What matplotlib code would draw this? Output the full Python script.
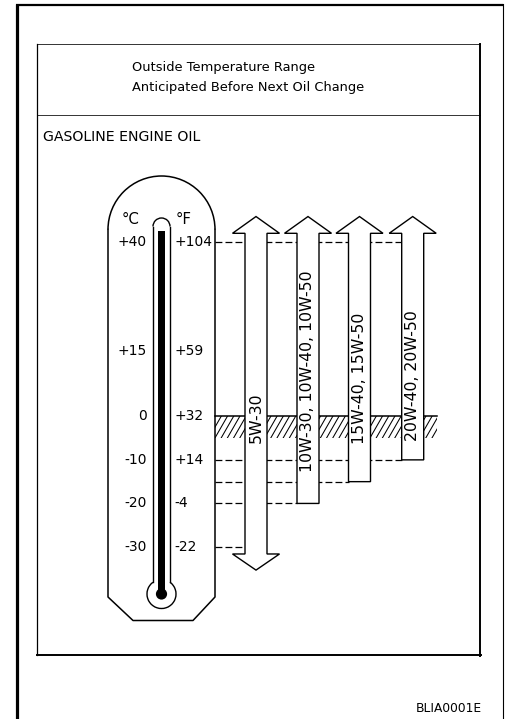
import matplotlib
matplotlib.use('Agg')
import numpy as np
import matplotlib.pyplot as plt
from matplotlib.patches import Polygon, Rectangle, Circle, Arc

# ---------------- data ----------------
celsius_ticks = [40, 15, 0, -10, -20, -30]
celsius_labels = ['+40', '+15', '0', '-10', '-20', '-30']
fahrenheit_labels = ['+104', '+59', '+32', '+14', '-4', '-22']
oil_grades = ['5W-30', '10W-30, 10W-40, 10W-50', '15W-40, 15W-50', '20W-40, 20W-50']
grade_low_c = [-30, -20, -15, -10]
grade_high_c = [40, 40, 40, 40]
grade_open_low = [True, False, False, False]
caution_band_c = [0, -5]
header_lines = ['Outside Temperature Range', 'Anticipated Before Next Oil Change']
section_title = 'GASOLINE ENGINE OIL'
figure_code = 'BLIA0001E'

# ---------------- layout ----------------
W, H = 505, 719
PX_PER_C = 4.357
ZERO_PX = 416.3
shaft_center_x = [256.0, 308.0, 359.5, 412.7]
shaft_half = 11.0
head_half = 23.5
label_y_c = [-0.4, 10.3, 8.6, 9.3]
therm_right = 215.0
band_right = 437.0

fig = plt.figure(figsize=(W / 100, H / 100), dpi=100)

# pixel axes for the frame / thermometer artwork
axp = fig.add_axes([0, 0, 1, 1])
axp.set_xlim(0, W)
axp.set_ylim(H, 0)
axp.axis('off')

# data axes: x in px, y in degrees Celsius
ax = fig.add_axes([0, 0, 1, 1])
ax.set_xlim(0, W)
ax.set_ylim((ZERO_PX - H) / PX_PER_C, ZERO_PX / PX_PER_C)
ax.axis('off')
ax.patch.set_alpha(0)

K = 'black'
# outer frame
axp.plot([16.5, 16.5], [4, H], color=K, lw=2.3, solid_capstyle='butt')
axp.plot([15.5, 503], [5, 5], color=K, lw=1.6, solid_capstyle='butt')
axp.plot([502.5, 502.5], [4, H], color=K, lw=0.8)

# inner box
axp.plot([36.7, 480], [43.5, 43.5], color='#333333', lw=0.7)
axp.plot([36.7, 480], [115, 115], color='#333333', lw=0.7)
axp.plot([36.7, 36.7], [43.5, 655], color=K, lw=0.9)
axp.plot([480, 480], [43.5, 655.5], color=K, lw=1.4)
axp.plot([36.7, 480.5], [655, 655], color=K, lw=1.4)

# header texts
axp.text(131.7, 67.7, header_lines[0], ha='left', va='center', fontsize=9.4)
axp.text(131.7, 87.3, header_lines[1], ha='left', va='center', fontsize=9.4)
axp.text(43, 136.7, section_title, ha='left', va='center', fontsize=10.2)
axp.text(482, 708, figure_code, ha='right', va='center', fontsize=8.8)

# thermometer body
body_cx, body_cy, body_r = 161.5, 229.5, 53.5
axp.add_patch(Arc((body_cx, body_cy), 2 * body_r, 2 * body_r, theta1=180, theta2=360, color=K, lw=1.1))
axp.plot([108, 108, 133, 193, 215, 215], [body_cy, 597, 620.5, 620.5, 597, body_cy], color=K, lw=1.1)

# tube and bulb
tube_l, tube_r, tube_top = 153.0, 170.0, 226.5
bulb_cy, bulb_r = 594.0, 14.5
axp.add_patch(Arc(((tube_l + tube_r) / 2, tube_top), tube_r - tube_l, tube_r - tube_l,
                  theta1=180, theta2=360, color=K, lw=1.0))
axp.plot([tube_l, tube_l], [tube_top, 582.3], color=K, lw=1.0)
axp.plot([tube_r, tube_r], [tube_top, 582.3], color=K, lw=1.0)
axp.add_patch(Arc((161.5, bulb_cy), 2 * bulb_r, 2 * bulb_r, theta1=305.9, theta2=234.1, color=K, lw=1.0))
axp.add_patch(Rectangle((157.7, 230.5), 7.5, bulb_cy - 230.5, color=K, lw=0))
axp.add_patch(Circle((161.5, bulb_cy), 5.6, color=K, lw=0))

axp.text(131, 219.5, '°C', ha='center', va='center', fontsize=10.8)
axp.text(184, 219.5, '°F', ha='center', va='center', fontsize=10.8)

# temperature labels
for t, cl, fl in zip(celsius_ticks, celsius_labels, fahrenheit_labels):
    ax.text(146.7, t, cl, ha='right', va='center', fontsize=10)
    ax.text(174.0, t, fl, ha='left', va='center', fontsize=10)

# caution band (steep hatch lines clipped to the band)
band = Rectangle((therm_right, caution_band_c[1]), band_right - therm_right,
                 caution_band_c[0] - caution_band_c[1], fill=False, lw=0, zorder=1)
ax.add_patch(band)
slant_px = 12.5
for x0 in np.arange(therm_right - slant_px, band_right + 1, 6.2):
    ln, = ax.plot([x0, x0 + slant_px], [caution_band_c[1], caution_band_c[0]],
                  color=K, lw=0.75, zorder=1)
    ln.set_clip_path(band)
ax.plot([therm_right, band_right], [caution_band_c[0]] * 2, color=K, lw=1.1, zorder=1.5)

# dashed guide lines
dash = (0, (5.5, 2.5))
ax.plot([therm_right, shaft_center_x[-1] - shaft_half], [max(grade_high_c)] * 2,
        color=K, lw=0.9, ls=dash, zorder=1)
for xc, lo in zip(shaft_center_x, grade_low_c):
    ax.plot([therm_right, xc - shaft_half], [lo, lo], color=K, lw=0.9, ls=dash, zorder=1)

# arrows
top_shaft_off, top_tip_off = 2.0, 5.85
bot_shaft_off, bot_tip_off = 1.6, 5.3
for xc, lo, hi, op, name, ly in zip(shaft_center_x, grade_low_c, grade_high_c,
                                     grade_open_low, oil_grades, label_y_c):
    ts, tt = hi + top_shaft_off, hi + top_tip_off
    if op:
        bs, bt = lo - bot_shaft_off, lo - bot_tip_off
        bottom = [(xc - shaft_half, bs), (xc - head_half, bs), (xc, bt),
                  (xc + head_half, bs), (xc + shaft_half, bs)]
    else:
        bottom = [(xc - shaft_half, lo), (xc + shaft_half, lo)]
    top = [(xc + shaft_half, ts), (xc + head_half, ts), (xc, tt),
           (xc - head_half, ts), (xc - shaft_half, ts)]
    ax.add_patch(Polygon(bottom + top, closed=True, facecolor='white', edgecolor=K,
                         lw=1.0, joinstyle='miter', zorder=3))
    ax.text(xc, ly, name, rotation=90, ha='center', va='center', fontsize=11.3, zorder=4)

fig.savefig('out.png', dpi=100)
